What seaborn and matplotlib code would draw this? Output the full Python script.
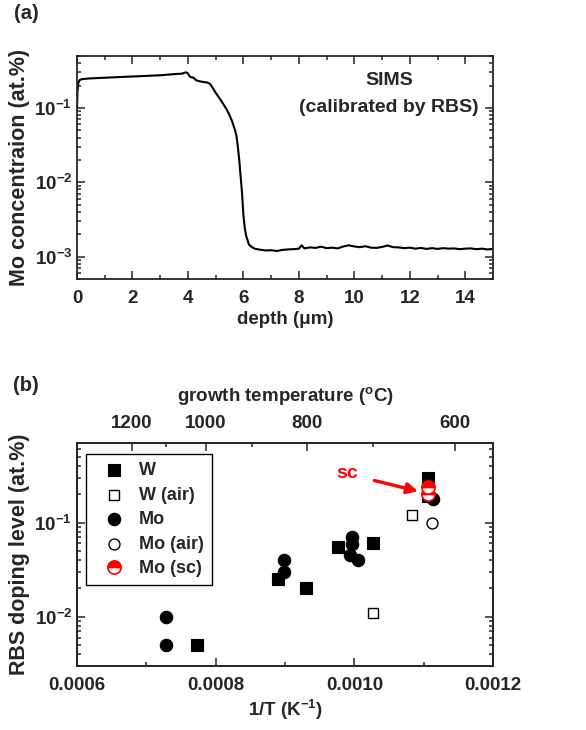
import numpy as np
import pandas as pd
import matplotlib
matplotlib.use('Agg')
import matplotlib.pyplot as plt
import matplotlib.ticker as mticker
import seaborn as sns

# (a) SIMS depth profile
depth_um = [0.0, 0.02, 0.05, 0.1, 0.2, 0.5, 1.0, 1.5, 2.0, 2.5, 3.0, 3.5, 3.8, 3.9, 3.95,
            4.0, 4.05, 4.1, 4.2, 4.3, 4.5, 4.7, 4.8, 4.9, 5.0, 5.2, 5.4, 5.5, 5.6, 5.7,
            5.75, 5.8, 5.85, 5.9, 5.95, 6.0, 6.05, 6.1, 6.2, 6.3, 6.4, 6.6, 6.8, 7.0,
            7.2, 7.4, 7.6, 7.8, 8.0, 8.1, 8.2, 8.4, 8.6, 8.8, 9.0, 9.2, 9.4, 9.6, 9.8,
            10.0, 10.2, 10.4, 10.6, 10.8, 11.0, 11.2, 11.4, 11.6, 11.8, 12.0, 12.2, 12.4,
            12.6, 12.8, 13.0, 13.2, 13.4, 13.6, 13.8, 14.0, 14.2, 14.4, 14.6, 14.8, 15.0]
mo_conc = [0.10, 0.17, 0.22, 0.238, 0.245, 0.25, 0.255, 0.26, 0.265, 0.27, 0.275, 0.285, 0.29, 0.30, 0.30,
           0.29, 0.27, 0.26, 0.255, 0.235, 0.225, 0.22, 0.21, 0.185, 0.16, 0.125, 0.095, 0.08, 0.065, 0.05,
           0.042, 0.03, 0.02, 0.012, 0.0072, 0.0036, 0.0024, 0.0019, 0.00145, 0.00135, 0.00128, 0.00124, 0.00121, 0.00122,
           0.00119, 0.00123, 0.00125, 0.00126, 0.00128, 0.00142, 0.00129, 0.00133, 0.00131, 0.00136, 0.00130, 0.00132, 0.00129, 0.00137, 0.00142,
           0.00137, 0.00134, 0.00138, 0.00132, 0.00131, 0.00135, 0.00141, 0.00134, 0.00133, 0.00130, 0.00132, 0.00128, 0.00131,
           0.00127, 0.00130, 0.00127, 0.00130, 0.00128, 0.00129, 0.00126, 0.00128, 0.00129, 0.00126, 0.00128, 0.00125, 0.00127]

# (b) RBS doping level vs 1/T
w_x = [0.000773, 0.000890, 0.000931, 0.000977, 0.001027, 0.001106, 0.001106]
w_y = [0.005, 0.025, 0.020, 0.055, 0.060, 0.30, 0.19]
w_air_x = [0.001083, 0.001027]
w_air_y = [0.12, 0.011]
mo_x = [0.000728, 0.000728, 0.000898, 0.000898, 0.000996, 0.000996, 0.000994, 0.001006, 0.001113]
mo_y = [0.010, 0.005, 0.040, 0.030, 0.071, 0.059, 0.045, 0.040, 0.18]
mo_air_x = [0.001112]
mo_air_y = [0.10]
mo_sc_x = [0.001106, 0.001106]
mo_sc_y = [0.24, 0.20]
temp_major = [1200, 1000, 800, 600]
temp_minor = [1100, 900, 700]

sns.set_style('ticks')
plt.rcParams['font.family'] = ['Liberation Sans', 'DejaVu Sans']
plt.rcParams['font.weight'] = 'bold'
plt.rcParams['axes.labelweight'] = 'bold'
plt.rcParams['mathtext.fontset'] = 'custom'
plt.rcParams['mathtext.rm'] = 'Liberation Sans:bold'
plt.rcParams['mathtext.bf'] = 'Liberation Sans:bold'
plt.rcParams['mathtext.it'] = 'Liberation Sans:bold'
plt.rcParams['axes.linewidth'] = 1.3

fs = 13.5
fl = 15.5

fig = plt.figure(figsize=(5.86, 7.30), dpi=100)
ax1 = fig.add_axes([0.1314, 0.6178, 0.7099, 0.3055])
ax2 = fig.add_axes([0.1314, 0.0877, 0.7099, 0.3055])


def pow_fmt(v, pos):
    return r'$\mathbf{10^{%d}}$' % int(round(np.log10(v)))


def style_axes(ax):
    ax.tick_params(which='both', direction='in', top=True, right=True, labelsize=fs, width=1.1)
    ax.tick_params(which='major', length=6)
    ax.tick_params(which='minor', length=3)
    ax.tick_params(axis='x', which='both', pad=8)
    ax.yaxis.set_major_formatter(mticker.FuncFormatter(pow_fmt))
    ax.yaxis.set_minor_formatter(mticker.NullFormatter())
    for lab in ax.get_xticklabels() + ax.get_yticklabels():
        lab.set_fontweight('bold')


# panel (a)
df_a = pd.DataFrame({'depth': depth_um, 'conc': mo_conc})
sns.lineplot(data=df_a, x='depth', y='conc', ax=ax1, color='black', lw=1.5, estimator=None, sort=False)
ax1.set_yscale('log')
ax1.set_xlim(0, 15)
ax1.set_ylim(5e-4, 0.5)
ax1.xaxis.set_major_locator(mticker.MultipleLocator(2))
ax1.xaxis.set_minor_locator(mticker.MultipleLocator(1))
ax1.yaxis.set_major_locator(mticker.LogLocator(base=10, numticks=10))
ax1.yaxis.set_minor_locator(mticker.LogLocator(base=10, subs=np.arange(2, 10), numticks=10))
style_axes(ax1)
ax1.set_xlabel('depth (μm)', fontsize=fs, fontweight='bold', labelpad=3)
ax1.set_ylabel('Mo concentraion (at.%)', fontsize=fl, fontweight='bold', labelpad=3)
ax1.text(0.75, 0.89, 'SIMS', transform=ax1.transAxes, ha='center', va='center', fontsize=14, fontweight='bold')
ax1.text(0.75, 0.77, '(calibrated by RBS)', transform=ax1.transAxes, ha='center', va='center', fontsize=14, fontweight='bold')
fig.text(0.024, 0.982, '(a)', fontsize=14.5, fontweight='bold', va='center')

# panel (b)
ms = 80
sns.scatterplot(x=w_x, y=w_y, ax=ax2, marker='s', s=ms, color='black', edgecolor='black', linewidth=0.8, label='W', zorder=3)
sns.scatterplot(x=w_air_x, y=w_air_y, ax=ax2, marker='s', s=62, facecolor='white', edgecolor='black', linewidth=1.0, label='W (air)', zorder=3)
sns.scatterplot(x=mo_x, y=mo_y, ax=ax2, marker='o', s=ms, color='black', edgecolor='black', linewidth=0.8, label='Mo', zorder=4)
sns.scatterplot(x=mo_air_x, y=mo_air_y, ax=ax2, marker='o', s=62, facecolor='white', edgecolor='black', linewidth=1.0, label='Mo (air)', zorder=4)
sns.lineplot(x=mo_sc_x, y=mo_sc_y, ax=ax2, marker='o', linestyle='', markersize=9.5, color='red',
             markerfacecolor='red', markerfacecoloralt='white', fillstyle='top', markeredgecolor='red',
             markeredgewidth=1.2, estimator=None, label='Mo (sc)', zorder=5)
ax2.set_yscale('log')
ax2.set_xlim(0.0006, 0.0012)
ax2.set_ylim(0.003, 0.7)
ax2.xaxis.set_major_locator(mticker.MultipleLocator(0.0002))
ax2.xaxis.set_minor_locator(mticker.MultipleLocator(0.0001))
ax2.xaxis.set_major_formatter(mticker.FormatStrFormatter('%.4f'))
ax2.yaxis.set_major_locator(mticker.LogLocator(base=10, numticks=10))
ax2.yaxis.set_minor_locator(mticker.LogLocator(base=10, subs=np.arange(2, 10), numticks=10))
style_axes(ax2)
ax2.tick_params(axis='x', which='both', top=False)
ax2.set_xlabel('1/T (K$^{-1}$)', fontsize=fs, fontweight='bold', labelpad=3)
ax2.set_ylabel('RBS doping level (at.%)', fontsize=fl, fontweight='bold', labelpad=3)

leg = ax2.legend(loc='upper left', bbox_to_anchor=(0.022, 0.951), borderaxespad=0, fontsize=13,
                 frameon=True, fancybox=False, edgecolor='black', framealpha=1, handletextpad=0.25,
                 labelspacing=0.42, borderpad=0.45, handlelength=2.2)
leg.get_frame().set_linewidth(1.0)
for t in leg.get_texts():
    t.set_fontweight('bold')

ax2.annotate('sc', xy=(0.001092, 0.215), xytext=(0.000989, 0.33), fontsize=14, fontweight='bold', color='red',
             ha='center', va='center',
             arrowprops=dict(arrowstyle='-|>', color='red', lw=2.4, mutation_scale=16, shrinkA=10, shrinkB=0))

# top axis: growth temperature
top = ax2.twiny()
top.set_xlim(ax2.get_xlim())
top.set_xticks([1.0 / (t + 273.15) for t in temp_major])
top.set_xticklabels([str(t) for t in temp_major])
top.set_xticks([1.0 / (t + 273.15) for t in temp_minor], minor=True)
top.tick_params(which='both', direction='in', labelsize=fs, width=1.1, pad=8)
top.tick_params(which='major', length=6)
top.tick_params(which='minor', length=3)
for lab in top.get_xticklabels():
    lab.set_fontweight('bold')
top.set_xlabel('growth temperature ($^{\\rm o}$C)', fontsize=fs, fontweight='bold', labelpad=10)
fig.text(0.022, 0.472, '(b)', fontsize=14.5, fontweight='bold', va='center')

fig.savefig('out.png', dpi=100)
